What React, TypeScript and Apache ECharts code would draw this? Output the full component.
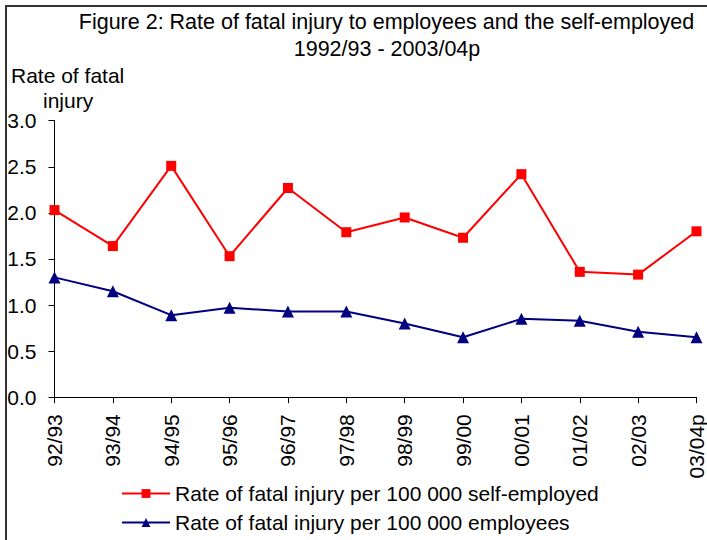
import React, { useEffect, useRef } from "react";
import * as echarts from "echarts";

const categories = ["92/93", "93/94", "94/95", "95/96", "96/97", "97/98", "98/99", "99/00", "00/01", "01/02", "02/03", "03/04p"];
const selfEmployed = [2.03, 1.64, 2.51, 1.53, 2.27, 1.79, 1.95, 1.73, 2.42, 1.36, 1.33, 1.8];
const employees = [1.3, 1.15, 0.89, 0.97, 0.93, 0.93, 0.8, 0.65, 0.85, 0.83, 0.71, 0.65];
const yTicks = { min: 0, max: 3, interval: 0.5 };
const titleLines = ["Figure 2: Rate of fatal injury to employees and the self-employed", "1992/93 - 2003/04p"];
const yNameLines = ["Rate of fatal", "injury"];
const seriesNames = ["Rate of fatal injury per 100 000 self-employed", "Rate of fatal injury per 100 000 employees"];

const FONT = "'Liberation Sans', Arial, sans-serif";

const legendBase = {
  orient: "horizontal",
  left: 116,
  itemWidth: 48,
  itemHeight: 11,
  textStyle: { fontSize: 21, fontFamily: FONT, color: "#000" },
};

export default function App() {
  const ref = useRef<HTMLDivElement>(null);
  useEffect(() => {
    if (!ref.current) return;
    const chart = echarts.init(ref.current, null, { renderer: "svg" });
    chart.setOption({
      animation: false,
      backgroundColor: "#fff",
      textStyle: { fontFamily: FONT },
      grid: { left: 54.5, right: 9.7, top: 120.7, bottom: 142.8, containLabel: false },
      graphic: [
        { type: "rect", shape: { x: 6, y: 6, width: 760, height: 600 }, style: { fill: "none", stroke: "#333", lineWidth: 2 }, silent: true },
        { type: "text", x: 386.5, y: 22.2, style: { text: titleLines[0], fontSize: 21.5, fontFamily: FONT, fill: "#000", align: "center", verticalAlign: "middle" } },
        { type: "text", x: 387, y: 49, style: { text: titleLines[1], fontSize: 21.5, fontFamily: FONT, fill: "#000", align: "center", verticalAlign: "middle" } },
        { type: "text", x: 11, y: 75, style: { text: yNameLines[0], fontSize: 21, fontFamily: FONT, fill: "#000", align: "left", verticalAlign: "middle" } },
        { type: "text", x: 43, y: 100, style: { text: yNameLines[1], fontSize: 21, fontFamily: FONT, fill: "#000", align: "left", verticalAlign: "middle" } },
      ],
      legend: [
        { ...legendBase, top: 478, data: [seriesNames[0]] },
        { ...legendBase, top: 507, data: [seriesNames[1]] },
      ],
      xAxis: {
        type: "category",
        data: categories,
        boundaryGap: false,
        axisLine: { lineStyle: { color: "#000", width: 1 } },
        axisTick: { show: true, length: 6, inside: false, lineStyle: { color: "#000" } },
        axisLabel: { rotate: 90, margin: 17, fontSize: 21, fontFamily: FONT, color: "#000", interval: 0 },
        splitLine: { show: false },
      },
      yAxis: {
        type: "value",
        min: yTicks.min,
        max: yTicks.max,
        interval: yTicks.interval,
        axisLine: { show: true, lineStyle: { color: "#000", width: 1 } },
        axisTick: { show: true, length: 6, lineStyle: { color: "#000" } },
        axisLabel: { margin: 18, fontSize: 21, fontFamily: FONT, color: "#000", formatter: (v: number) => v.toFixed(1) },
        splitLine: { show: false },
      },
      series: [
        {
          name: seriesNames[0],
          type: "line",
          data: selfEmployed,
          symbol: "rect",
          symbolSize: 10,
          lineStyle: { color: "#FF0000", width: 2 },
          itemStyle: { color: "#FF0000" },
        },
        {
          name: seriesNames[1],
          type: "line",
          data: employees,
          symbol: "triangle",
          symbolSize: 12,
          lineStyle: { color: "#000080", width: 2 },
          itemStyle: { color: "#000080" },
        },
      ],
    });
    return () => chart.dispose();
  }, []);
  return <div ref={ref} style={{ position: "fixed", left: 0, top: 0, width: 707, height: 540 }} />;
}
